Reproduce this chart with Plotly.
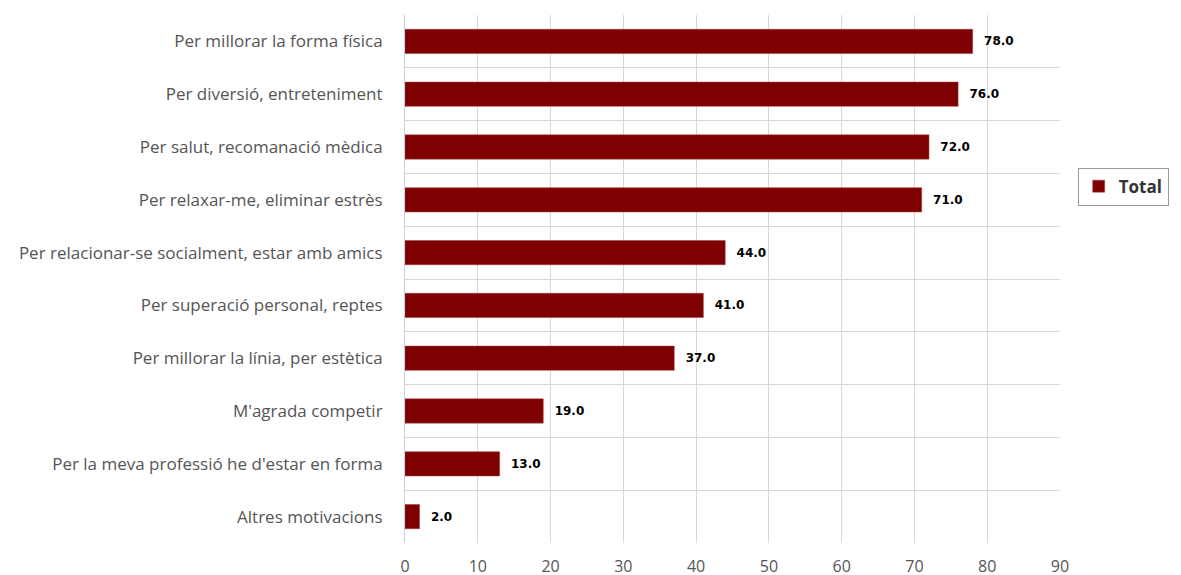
import plotly.graph_objects as go

categories = [
    "Per millorar la forma física",
    "Per diversió, entreteniment",
    "Per salut, recomanació mèdica",
    "Per relaxar-me, eliminar estrès",
    "Per relacionar-se socialment, estar amb amics",
    "Per superació personal, reptes",
    "Per millorar la línia, per estètica",
    "M'agrada competir",
    "Per la meva professió he d'estar en forma",
    "Altres motivacions",
]
values = [78.0, 76.0, 72.0, 71.0, 44.0, 41.0, 37.0, 19.0, 13.0, 2.0]
x_ticks = [0, 10, 20, 30, 40, 50, 60, 70, 80, 90]

fig = go.Figure()
fig.add_trace(go.Bar(
    x=values, y=categories, orientation="h", name="Total",
    marker=dict(color="#7F0000", line=dict(color="#a04040", width=0.5)),
    texttemplate="\u00a0\u00a0%{x:.1f}", textposition="outside",
    textfont=dict(family="DejaVu Sans", size=12, color="#000000", weight="bold"),
    cliponaxis=False,
))

fig.update_layout(
    width=1181, height=575,
    margin=dict(l=397, r=129, t=7, b=40, autoexpand=False),
    plot_bgcolor="white", paper_bgcolor="white",
    bargap=0.54,
    font=dict(family="Open Sans", size=17, color="#555555"),
    showlegend=True,
    legend=dict(
        x=1.027, y=0.675, xanchor="left", yanchor="middle",
        bordercolor="#999999", borderwidth=1, bgcolor="white",
        font=dict(size=17, color="#333333", family="Open Sans", weight="bold"),
    ),
    xaxis=dict(
        range=[0, 90], tickvals=x_ticks, showgrid=True, gridcolor="#D8D8D8",
        zeroline=False, showline=False, ticks="",
        tickfont=dict(size=16, color="#555555"),
        ticklabelstandoff=12,
    ),
    yaxis=dict(
        type="category", autorange="reversed", tickson="boundaries",
        showgrid=True, gridcolor="#D8D8D8", showline=True, linecolor="#C0D0E0",
        ticks="", ticklen=0, tickfont=dict(size=17, color="#555555"),
        ticklabelstandoff=18,
    ),
)

fig.write_html("out.html")
